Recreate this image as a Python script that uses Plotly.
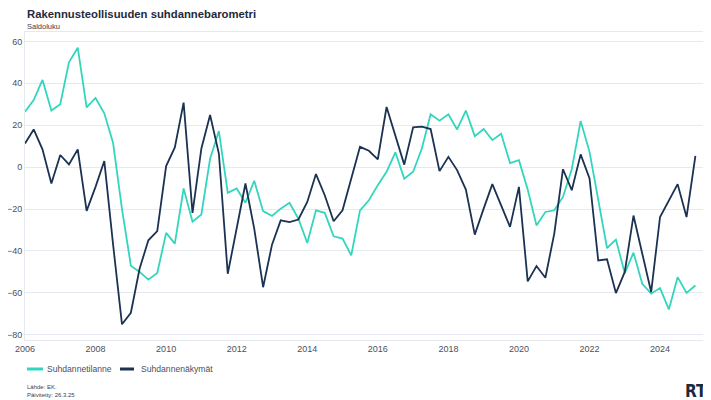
import plotly.graph_objects as go
import pandas as pd

title = "Rakennusteollisuuden suhdannebarometri"
subtitle = "Saldoluku"
source_text = "Lähde: EK."
updated_text = "Päivitetty: 26.3.25"
series_names = ["Suhdannetilanne", "Suhdannenäkymät"]

# Quarterly observations 2006Q1 ... 2025Q1
quarters = pd.date_range("2006-01-01", periods=77, freq="QS")

suhdannetilanne = [
    26.5, 32, 41.6, 27, 30, 50, 57, 28.5, 33, 25.7,
    11.5, -20, -47, -50, -53.7, -50.5, -31.4, -36.5, -10.2, -26,
    -22.6, 4, 17.2, -12.3, -10.2, -17, -6.5, -21, -23.3, -19.8,
    -17, -24.6, -36.2, -20.6, -21.8, -33, -34.1, -42.1, -20.6, -15.8,
    -8.6, -2.2, 7.1, -5.5, -2.2, 8.9, 25.2, 22.2, 25.2, 18,
    27, 14.8, 18.2, 12.9, 15.9, 1.9, 3.3, -10.7, -27.8, -21.4,
    -20.6, -14.2, -1, 22, 7.3, -16, -38.6, -34.6, -50.6, -40.8,
    -55.7, -60.4, -57.7, -67.9, -52.5, -60, -56.5,
]

suhdannenakymat = [
    11.3, 18, 8.5, -7.8, 5.8, 1.3, 8.5, -20.9, -9.4, 2.9,
    -37, -75, -69.5, -48.5, -34.9, -30.5, 0.5, 9.4, 30.8, -21.8,
    8.9, 24.9, 6.5, -50.9, -29.3, -7.8, -29.3, -57.3, -37, -25.4,
    -26.2, -25, -16.6, -3.3, -13.4, -25.8, -20.6, -5.4, 9.7, 7.8,
    3.7, 28.7, 15, 1.2, 19, 19.3, 18.2, -1.9, 4.9, -1.4,
    -10.7, -32.2, -19.8, -8.1, -18.2, -28.5, -9.4, -54.5, -47.2, -52.8,
    -31.7, -1, -11, 6.1, -5.4, -44.5, -44, -60.1, -50, -23.1,
    -41.3, -59.6, -23.8, -15.8, -8.1, -23.8, 5.4,
]

tick_years = ["2006", "2008", "2010", "2012", "2014", "2016", "2018", "2020", "2022", "2024"]
y_ticks = [-80, -60, -40, -20, 0, 20, 40, 60]

teal = "#33d6bd"
navy = "#1b3252"
series_colors = [teal, navy]
font_family = "Liberation Sans, Arial, sans-serif"
text_col = "#4a5060"

# figure geometry (page body adds an 8px offset)
W, H = 703, 392
ML, MR, MT, MB = 17, 4, 24, 60
plot_w = W - ML - MR
plot_h = H - MT - MB


def px_to_paper(px, py):
    return (px - ML) / plot_w, (H - MB - py) / plot_h


fig = go.Figure()
fig.add_trace(go.Scatter(x=quarters, y=suhdannetilanne, mode="lines", name=series_names[0],
                         line=dict(color=teal, width=1.8), showlegend=False))
fig.add_trace(go.Scatter(x=quarters, y=suhdannenakymat, mode="lines", name=series_names[1],
                         line=dict(color=navy, width=1.8), showlegend=False))

anns = []
shapes = []
tx, ty = px_to_paper(17, 6)
anns.append(dict(text="<b>" + title + "</b>", x=tx, y=ty, xref="paper", yref="paper", showarrow=False,
                 font=dict(size=11.3, color="#1f2a3c"), xanchor="left", yanchor="middle"))
sx, sy = px_to_paper(17, 18)
anns.append(dict(text=subtitle, x=sx, y=sy, xref="paper", yref="paper", showarrow=False,
                 font=dict(size=7.5, color="#3a4050"), xanchor="left", yanchor="middle"))
fx, fy = px_to_paper(17, 379)
anns.append(dict(text=source_text, x=fx, y=fy, xref="paper", yref="paper", showarrow=False,
                 font=dict(size=6, color="#3a4050"), xanchor="left", yanchor="middle"))
fx2, fy2 = px_to_paper(17, 387)
anns.append(dict(text=updated_text, x=fx2, y=fy2, xref="paper", yref="paper", showarrow=False,
                 font=dict(size=6, color="#3a4050"), xanchor="left", yanchor="middle"))
lx, ly = px_to_paper(701, 383)
anns.append(dict(text="<b>RT</b>", x=lx, y=ly, xref="paper", yref="paper", showarrow=False,
                 font=dict(size=17, color="#1b2a40", family="DejaVu Sans Condensed, DejaVu Sans"),
                 xanchor="right", yanchor="middle"))

# legend (drawn as layout items)
legend_items = [(19, 35, 37), (112, 126, 131)]
for (x0, x1, xt), name, col in zip(legend_items, series_names, series_colors):
    p0x, p0y = px_to_paper(x0, 361)
    p1x, _ = px_to_paper(x1, 361)
    shapes.append(dict(type="line", xref="paper", yref="paper", x0=p0x, x1=p1x, y0=p0y, y1=p0y,
                       line=dict(color=col, width=3)))
    ptx, pty = px_to_paper(xt, 361)
    anns.append(dict(text=name, x=ptx, y=pty, xref="paper", yref="paper", showarrow=False,
                     font=dict(size=8.6, color=text_col), xanchor="left", yanchor="middle"))

fig.update_layout(
    width=W, height=H,
    margin=dict(l=ML, r=MR, t=MT, b=MB, autoexpand=False),
    paper_bgcolor="white", plot_bgcolor="white",
    font=dict(family=font_family, size=9, color=text_col),
    showlegend=False,
    annotations=anns,
    shapes=shapes,
)

fig.update_xaxes(
    type="date",
    range=["2006-01-01", "2025-05-01"],
    tickvals=[pd.Timestamp(y + "-01-01") for y in tick_years],
    ticktext=tick_years,
    showgrid=False, zeroline=False,
    showline=True, linecolor="#e6e9ef", linewidth=1, mirror=True,
    ticks="", tickfont=dict(size=9, color=text_col),
)
fig.update_yaxes(
    range=[-82.5, 64.5],
    tickvals=y_ticks,
    showgrid=True, gridcolor="#e6e9ef", gridwidth=1,
    zeroline=False,
    showline=True, linecolor="#e6e9ef", linewidth=1, mirror=True,
    ticks="", tickfont=dict(size=9, color=text_col),
)

fig.write_html("out.html")
